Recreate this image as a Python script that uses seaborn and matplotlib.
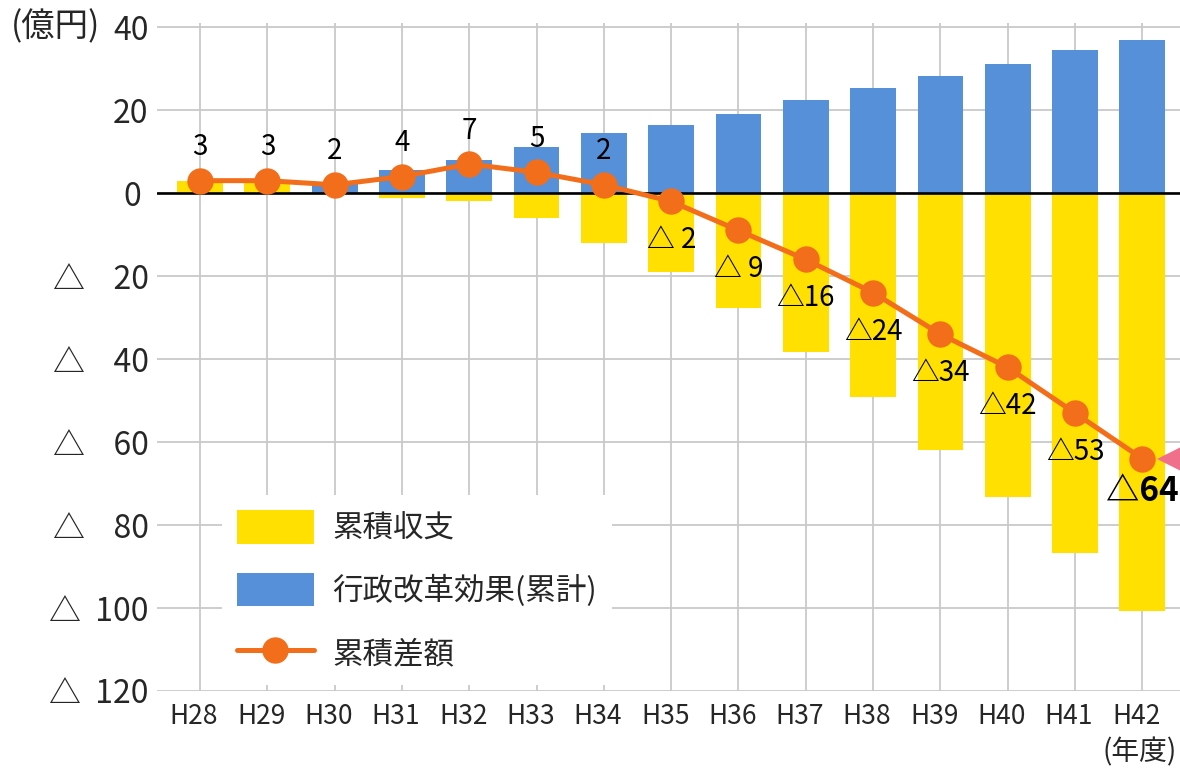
import matplotlib
matplotlib.use("Agg")
import matplotlib.pyplot as plt
import matplotlib.transforms as mtransforms
from matplotlib.patches import Patch
from matplotlib.lines import Line2D
import numpy as np
import pandas as pd
import seaborn as sns

# Fiscal years and series (unit: 100 million yen)
years = ["H28", "H29", "H30", "H31", "H32", "H33", "H34", "H35",
         "H36", "H37", "H38", "H39", "H40", "H41", "H42"]
cumulative_balance = [3.0, 2.7, 0.0, -1.2, -2.0, -6.0, -12.0, -19.0,
                      -27.7, -38.3, -49.2, -62.0, -73.3, -86.7, -100.7]
reform_effect = [0.0, 0.0, 2.4, 5.5, 8.0, 11.2, 14.4, 16.4,
                 19.0, 22.4, 25.4, 28.2, 31.0, 34.5, 36.9]
cumulative_diff = [3, 3, 2, 4, 7, 5, 2, -2, -9, -16, -24, -34, -42, -53, -64]
diff_labels = ["3", "3", "2", "4", "7", "5", "2", "△ 2", "△ 9", "△16",
               "△24", "△34", "△42", "△53", "△64"]
y_ticks = [40, 20, 0, -20, -40, -60, -80, -100, -120]
y_tick_labels = ["40", "20", "0 ", "△    20", "△    40", "△    60", "△    80",
                 "△  100", "△  120"]
legend_labels = ["累積収支", "行政改革効果(累計)", "累積差額"]

YELLOW = "#FFE000"
BLUE = "#5590D8"
ORANGE = "#F36E1A"
GRID = "#C9C9C9"

sns.set_style("white")
plt.rcParams["font.family"] = ["Noto Sans CJK JP", "DejaVu Sans"]

df = pd.DataFrame({"year": years, "balance": cumulative_balance,
                   "effect": reform_effect, "diff": cumulative_diff})

fig = plt.figure(figsize=(11.8, 7.72), dpi=100)
ax = fig.add_axes([157 / 1180, 1 - 691 / 772, 1 - 157 / 1180, (691 - 23) / 772])

sns.barplot(data=df, x="year", y="balance", color=YELLOW, width=0.68,
            saturation=1, ax=ax, zorder=2)
sns.barplot(data=df, x="year", y="effect", color=BLUE, width=0.68,
            saturation=1, ax=ax, zorder=2)
for p in ax.patches:
    p.set_edgecolor("none")

pos = np.arange(len(years))
sns.lineplot(x=pos, y=df["diff"], color=ORANGE, linewidth=3.6, marker="o",
             markersize=19, markeredgewidth=0, markerfacecolor=ORANGE,
             ax=ax, zorder=5)

ax.axhline(0, color="black", linewidth=1.9, zorder=4)

# value labels next to the cumulative difference points
for i, (v, lab) in enumerate(zip(cumulative_diff, diff_labels)):
    last = i == len(years) - 1
    if v > 0:
        off = 24
    else:
        off = -24 if last else -28
    ax.annotate(lab, (pos[i], v), xytext=(0, off), textcoords="offset points",
                ha="center", va="center", fontsize=24 if last else 20,
                fontweight="bold" if last else "normal", color="black",
                zorder=6)

# callout pointer at the right edge
ax.plot([pos[-1] + 0.4], [cumulative_diff[-1]], marker="<", markersize=17,
        color="#F0708C", markeredgewidth=0, clip_on=False, zorder=6)

ax.set_xlim(-0.64, 14.56)
ax.set_ylim(-120, 41)
ax.set_yticks(y_ticks)
ax.set_yticklabels(y_tick_labels, fontsize=23)
ax.set_xticks(pos)
ax.set_xticklabels(years, fontsize=19)
ax.tick_params(axis="both", length=0)
ax.tick_params(axis="x", pad=9)
ax.tick_params(axis="y", pad=6)
shift = mtransforms.ScaledTranslation(-0.06, 0, fig.dpi_scale_trans)
for lbl in ax.get_xticklabels():
    lbl.set_transform(lbl.get_transform() + shift)
ax.set_xlabel("")
ax.set_ylabel("")
ax.grid(True, color=GRID, linewidth=1.3, zorder=0)
ax.set_axisbelow(True)
for s in ax.spines.values():
    s.set_visible(False)

fig.text(11 / 1180, 1 - 27 / 772, "(億円)", fontsize=24, ha="left", va="center")
fig.text(1177 / 1180, 1 - 752 / 772, "(年度)", fontsize=20, ha="right", va="center")

handles = [Patch(facecolor=YELLOW, edgecolor="none"),
           Patch(facecolor=BLUE, edgecolor="none"),
           Line2D([0], [0], color=ORANGE, linewidth=3.6, marker="o",
                  markersize=19, markeredgewidth=0)]
leg = ax.legend(handles, legend_labels, loc="upper left",
                bbox_to_anchor=(222 / 1180, 1 - 495 / 772),
                bbox_transform=fig.transFigure, borderaxespad=0,
                borderpad=0.5, fontsize=22, handlelength=2.5,
                handleheight=1.3, handletextpad=0.6, labelspacing=0.95,
                frameon=True, facecolor="white", edgecolor="none",
                framealpha=1, fancybox=False)
leg.set_zorder(7)

fig.savefig("out.png", dpi=100)
